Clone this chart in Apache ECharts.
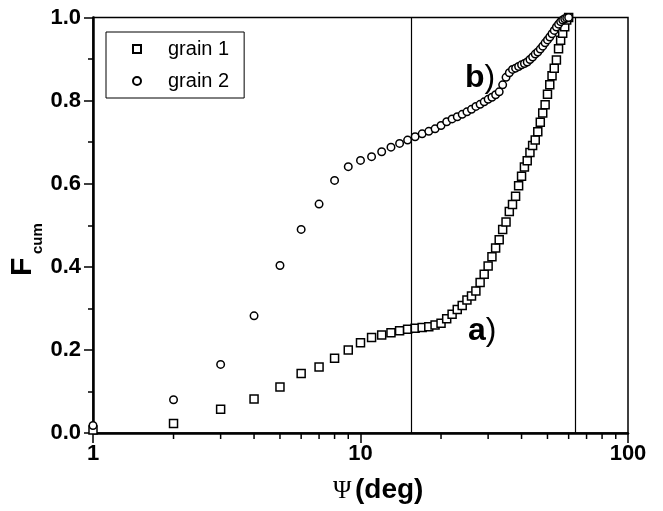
<!DOCTYPE html>
<html>
<head>
<meta charset="utf-8">
<title>F cum vs Psi</title>
<script src="https://cdn.jsdelivr.net/npm/echarts@6.0.0/dist/echarts.min.js"></script>
<style>
    html, body {margin: 0; padding: 0; background: #fff;}
    #chart {width: 663px; height: 511px;}
</style>
</head>
<body>
<div id="chart"></div>
<script>
var psiDeg = [1, 2, 3, 4, 5, 6, 7, 8, 9, 10,
    11, 12, 13, 14, 15, 16, 17, 18, 19, 20,
    21, 22, 23, 24, 25, 26, 27, 28, 29, 30,
    31, 32, 33, 34, 35, 36, 37, 38, 39, 40,
    41, 42, 43, 44, 45, 46, 47, 48, 49, 50,
    51, 52, 53, 54, 55, 56, 57, 58, 59, 60];

var grain1 = [0.007, 0.023, 0.057, 0.082, 0.111, 0.143, 0.159, 0.180, 0.200, 0.217,
    0.230, 0.236, 0.241, 0.246, 0.250, 0.252, 0.254, 0.256, 0.260, 0.264,
    0.275, 0.286, 0.297, 0.307, 0.320, 0.330, 0.342, 0.362, 0.382, 0.402,
    0.424, 0.445, 0.465, 0.490, 0.508, 0.533, 0.550, 0.570, 0.595, 0.618,
    0.640, 0.655, 0.675, 0.692, 0.705, 0.725, 0.748, 0.770, 0.790, 0.815,
    0.838, 0.860, 0.878, 0.898, 0.925, 0.945, 0.962, 0.978, 0.994, 1.000];

var grain2 = [0.018, 0.080, 0.165, 0.282, 0.403, 0.490, 0.551, 0.608, 0.641, 0.656,
    0.665, 0.677, 0.688, 0.697, 0.705, 0.713, 0.720, 0.726, 0.732, 0.740,
    0.749, 0.756, 0.761, 0.767, 0.773, 0.779, 0.786, 0.791, 0.797, 0.803,
    0.808, 0.814, 0.821, 0.838, 0.856, 0.867, 0.875, 0.878, 0.882, 0.886,
    0.889, 0.893, 0.899, 0.905, 0.912, 0.917, 0.924, 0.931, 0.939, 0.946,
    0.953, 0.961, 0.969, 0.977, 0.984, 0.990, 0.994, 0.997, 0.999, 1.000];

// vertical reference lines (deg)
var refLines = [15.5, 63.4];
// minor ticks of the log axis
var xMinorTicks = [2, 3, 4, 5, 6, 7, 8, 9, 20, 30, 40, 50, 60, 70, 80, 90];
var seriesNames = ['grain 1', 'grain 2'];

var chart = echarts.init(document.getElementById('chart'), null, {renderer: 'canvas'});

function pairs(xs, ys) {
    var out = [];
    for (var i = 0; i < xs.length; i++) {
        out.push([xs[i], ys[i]]);
    }
    return out;
}

var sans = 'Liberation Sans, Arial, sans-serif';

var option = {
    backgroundColor: '#fff',
    animation: false,
    grid: {
        left: 93, right: 35, top: 17.5, bottom: 78,
        show: true, borderColor: '#000', borderWidth: 1.5
    },
    legend: {
        left: 106, top: 32,
        orient: 'vertical',
        padding: [7, 15, 7, 26],
        itemWidth: 8, itemHeight: 8, itemGap: 12,
        borderColor: '#000', borderWidth: 1,
        data: [
            {name: seriesNames[0], icon: 'rect'},
            {name: seriesNames[1], icon: 'circle'}
        ],
        textStyle: {fontFamily: sans, fontSize: 20, color: '#000', padding: [0, 0, 0, 22]}
    },
    xAxis: {
        type: 'log', logBase: 10, min: 1, max: 100,
        axisLine: {lineStyle: {color: '#000', width: 2.5}},
        axisTick: {length: 10, lineStyle: {color: '#000', width: 1.5}},
        axisLabel: {margin: 10, color: '#000', fontFamily: sans, fontWeight: 'bold', fontSize: 22},
        splitLine: {show: false},
        minorTick: {show: false}
    },
    yAxis: {
        type: 'value', min: 0, max: 1, interval: 0.2,
        axisLine: {show: true, lineStyle: {color: '#000', width: 2.5}},
        axisTick: {show: true, length: 9, lineStyle: {color: '#000', width: 1.5}},
        minorTick: {show: true, splitNumber: 2, length: 5, lineStyle: {color: '#000', width: 1.5}},
        axisLabel: {
            margin: 12, color: '#000', fontFamily: sans, fontWeight: 'bold', fontSize: 22,
            formatter: function (v) { return v.toFixed(1); }
        },
        splitLine: {show: false}
    },
    graphic: [
        {
            type: 'group', x: 38, y: 276, rotation: Math.PI / 2,
            children: [
                {type: 'text', x: 0, y: 0, style: {text: 'F', fontFamily: sans, fontWeight: 'bold', fontSize: 30, fill: '#000', verticalAlign: 'bottom'}},
                {type: 'text', x: 22, y: 7, style: {text: 'cum', fontFamily: sans, fontWeight: 'bold', fontSize: 15, fill: '#000', verticalAlign: 'bottom'}}
            ]
        },
        {type: 'text', x: 333, y: 479, style: {text: 'Ψ', fontFamily: 'Liberation Serif, Times New Roman, serif', fontSize: 25, fill: '#000'}},
        {type: 'text', x: 355, y: 476, style: {text: '(deg)', fontFamily: sans, fontWeight: 'bold', fontSize: 28, fill: '#000'}},
        {type: 'text', x: 465, y: 62, style: {text: '{l|b}{p|)}', rich: {l: {fontFamily: sans, fontWeight: 'bold', fontSize: 32, fill: '#000'}, p: {fontFamily: sans, fontSize: 32, fill: '#000'}}}},
        {type: 'text', x: 468, y: 315, style: {text: '{l|a}{p|)}', rich: {l: {fontFamily: sans, fontWeight: 'bold', fontSize: 32, fill: '#000'}, p: {fontFamily: sans, fontSize: 32, fill: '#000'}}}}
    ],
    series: [
        {
            name: 'ticks',
            type: 'custom',
            silent: true,
            clip: false,
            data: pairs(xMinorTicks, xMinorTicks.map(function () { return 0; })),
            renderItem: function (params, api) {
                var p = api.coord([api.value(0), 0]);
                return {
                    type: 'line',
                    shape: {x1: p[0], y1: p[1], x2: p[0], y2: p[1] + 6},
                    style: {stroke: '#000', lineWidth: 1.5}
                };
            }
        },
        {
            name: seriesNames[0],
            type: 'scatter',
            symbol: 'rect',
            symbolSize: 8,
            clip: false,
            itemStyle: {color: '#fff', borderColor: '#000', borderWidth: 1.5, opacity: 1},
            data: pairs(psiDeg, grain1),
            markLine: {
                silent: true,
                symbol: 'none',
                label: {show: false},
                lineStyle: {color: '#000', type: 'solid', width: 1.2},
                data: refLines.map(function (v) { return {xAxis: v}; })
            }
        },
        {
            name: seriesNames[1],
            type: 'scatter',
            symbol: 'circle',
            symbolSize: 7.5,
            clip: false,
            itemStyle: {color: '#fff', borderColor: '#000', borderWidth: 1.5, opacity: 1},
            data: pairs(psiDeg, grain2)
        }
    ]
};

chart.setOption(option);
</script>
</body>
</html>
